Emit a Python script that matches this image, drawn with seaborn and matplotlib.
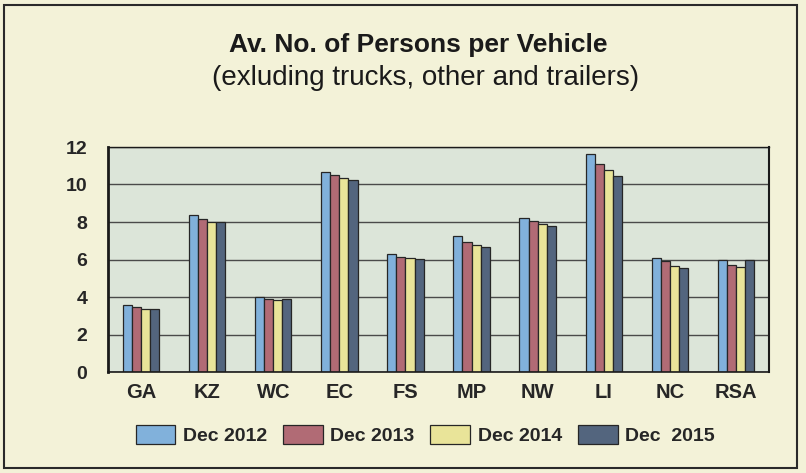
import numpy as np
import matplotlib
matplotlib.use('Agg')
import matplotlib.pyplot as plt
import pandas as pd
import seaborn as sns
from matplotlib.patches import Rectangle
from matplotlib.ticker import MultipleLocator, FixedLocator

regions = ['GA', 'KZ', 'WC', 'EC', 'FS', 'MP', 'NW', 'LI', 'NC', 'RSA']
periods = ['Dec 2012', 'Dec 2013', 'Dec 2014', 'Dec  2015']
dec_2012 = [3.6, 8.35, 4.0, 10.65, 6.3, 7.25, 8.2, 11.6, 6.1, 5.95]
dec_2013 = [3.45, 8.15, 3.9, 10.5, 6.15, 6.95, 8.05, 11.1, 5.9, 5.7]
dec_2014 = [3.35, 8.0, 3.85, 10.35, 6.1, 6.75, 7.9, 10.75, 5.65, 5.6]
dec_2015 = [3.35, 8.0, 3.9, 10.25, 6.05, 6.65, 7.8, 10.45, 5.55, 5.95]
colors = ['#72b2ea', '#bd5f6c', '#f6ef8c', '#4c6485']

df = pd.DataFrame({
    'region': regions * 4,
    'period': np.repeat(periods, len(regions)),
    'value': dec_2012 + dec_2013 + dec_2014 + dec_2015,
})

sns.set_style('white')
plt.rcParams['font.family'] = ['Liberation Sans', 'DejaVu Sans']

fig = plt.figure(figsize=(8.06, 4.73), dpi=100, facecolor='#f3f2d8')
ax = fig.add_axes([108 / 806, 1 - 372 / 473, (769 - 108) / 806, (372 - 147) / 473])
ax.set_facecolor('#dce5d9')

sns.barplot(data=df, x='region', y='value', hue='period', palette=colors,
            width=0.55, gap=0, edgecolor='#262626', linewidth=0.9, ax=ax)

ax.set_ylim(0, 12)
ax.set_xlim(-0.5, len(regions) - 0.5)
ax.yaxis.set_major_locator(MultipleLocator(2))
ax.yaxis.set_minor_locator(MultipleLocator(1))
ax.grid(axis='y', color='#4a4a4a', linewidth=1.0)
ax.set_axisbelow(True)
ax.xaxis.set_minor_locator(FixedLocator(np.arange(0.5, len(regions) - 1, 1)))
ax.tick_params(axis='y', which='major', direction='inout', length=8, width=1, pad=11,
               labelsize=14)
ax.tick_params(axis='y', which='minor', direction='inout', length=6, width=0.8)
ax.tick_params(axis='x', which='major', length=0, pad=8, labelsize=14.5)
ax.tick_params(axis='x', which='minor', direction='inout', length=6, width=0.8)
for lab in ax.get_xticklabels() + ax.get_yticklabels():
    lab.set_fontweight('bold')
ax.set_xlabel('')
ax.set_ylabel('')
for side in ['left', 'bottom', 'right', 'top']:
    ax.spines[side].set_visible(True)
    ax.spines[side].set_color('#1a1a1a')
ax.spines['left'].set_linewidth(2)
ax.spines['bottom'].set_linewidth(1.2)
ax.spines['right'].set_linewidth(1.5)
ax.spines['top'].set_linewidth(1.0)

handles, labels = ax.get_legend_handles_labels()
ax.get_legend().remove()
fig.legend(handles, labels, loc='center left', bbox_to_anchor=(118 / 806, 1 - 435 / 473),
           ncol=4, frameon=False, handlelength=2.05, handleheight=1.1,
           handletextpad=0.4, columnspacing=0.8, prop={'weight': 'bold', 'size': 14})

fig.text(418 / 806, 1 - 45 / 473, 'Av. No. of Persons per Vehicle', ha='center', va='center',
         fontsize=19, fontweight='bold', color='#1a1a1a')
fig.text(426 / 806, 1 - 78 / 473, '(exluding trucks, other and trailers)', ha='center',
         va='center', fontsize=20, color='#1a1a1a')

fig.patches.append(Rectangle((4 / 806, 5 / 473), 793 / 806, 463 / 473, transform=fig.transFigure,
                             fill=False, edgecolor='#2a2a2a', linewidth=1.5))

fig.savefig('out.png', dpi=100, facecolor=fig.get_facecolor())
